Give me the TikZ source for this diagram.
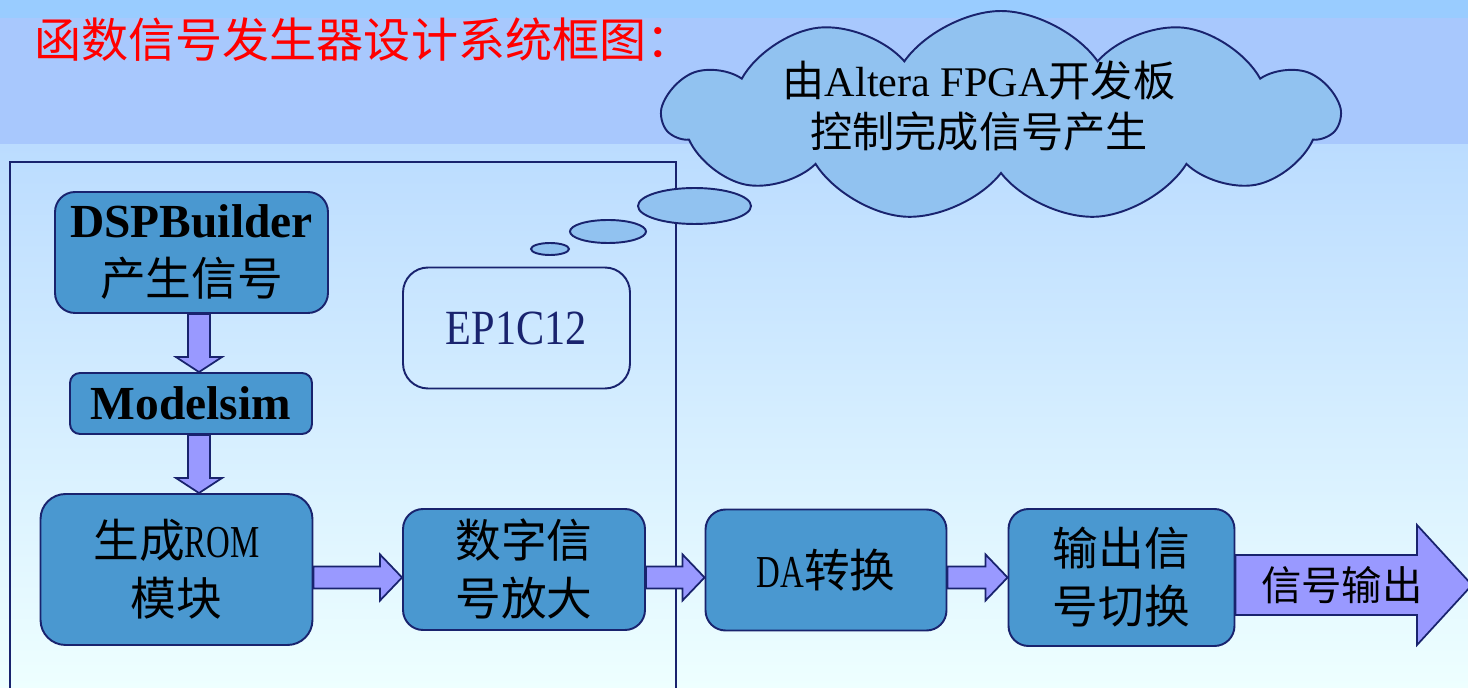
\documentclass[tikz,border=0pt]{standalone}
\usepackage{fontspec}
\setmainfont{Liberation Serif}
\newfontfamily\cjk{Noto Sans CJK SC}
\newfontfamily\half[FakeStretch=0.72]{Liberation Serif}
\newfontfamily\narrow[FakeStretch=0.86]{Liberation Serif}
\usepackage{tikz}
\usetikzlibrary{arrows, shapes, calc}
\definecolor{navy}{RGB}{25,35,110}
\definecolor{boxblue}{RGB}{74,152,208}
\definecolor{arrowfill}{RGB}{153,153,255}
\definecolor{cloudblue}{RGB}{145,194,240}
\definecolor{topband}{RGB}{153,204,255}
\definecolor{midband}{RGB}{168,200,253}
\definecolor{bandtop}{RGB}{187,220,255}
\definecolor{bandmid}{RGB}{214,228,255}
\definecolor{bandlow}{RGB}{238,255,255}
\tikzstyle{block} = [draw=navy, fill=boxblue, line width=1.1pt, rounded corners=0.4cm, align=center, inner sep=0pt, font=\fontsize{26}{33}\selectfont\cjk]
\tikzstyle{chip} = [draw=navy, line width=1.1pt, rounded corners=0.5cm, text=navy, minimum width=4.54cm, minimum height=2.42cm, font=\fontsize{28}{32}\selectfont\narrow]
\tikzstyle{blockarrow} = [draw=navy, fill=arrowfill, line width=1pt, line join=miter]
\tikzstyle{thought} = [draw=navy, fill=cloudblue, line width=1.1pt]
\tikzstyle{bubble} = [thought, ellipse, inner sep=0pt]
\tikzstyle{frame} = [draw=navy, line width=1.1pt]
\newcommand{\varrow}[2]{\path[blockarrow] let \p1=(col |- #1.south), \p2=(col |- #2.north) in
  (\x1-0.22cm,\y1) -- (\x1+0.22cm,\y1) -- (\x1+0.22cm,\y2+0.3cm) -- (\x1+0.46cm,\y2+0.3cm) -- (\x2,\y2)
  -- (\x1-0.46cm,\y2+0.3cm) -- (\x1-0.22cm,\y2+0.3cm) -- cycle;}
\newcommand{\harrow}[2]{\path[blockarrow] let \p1=(#1.east |- flow), \p2=(#2.west |- flow) in
  (\x1,\y1+0.22cm) -- (\x2-0.44cm,\y1+0.22cm) -- (\x2-0.44cm,\y1+0.46cm) -- (\x2,\y1)
  -- (\x2-0.44cm,\y1-0.46cm) -- (\x2-0.44cm,\y1-0.22cm) -- (\x1,\y1-0.22cm) -- cycle;}
\begin{document}
\begin{tikzpicture}[x=0.02cm, y=-0.02cm]
        \useasboundingbox (0,0) rectangle (1468,688);
        \fill[topband] (0,0) rectangle (1468,18);
        \fill[midband] (0,18) rectangle (1468,145);
        \shade[top color=bandtop, middle color=bandmid, bottom color=bandlow] (0,145) rectangle (1468,688);

        \node [anchor=west, inner sep=0pt, text=red, font=\fontsize{26.8}{30}\selectfont\cjk] (title) at (34,40) {函数信号发生器设计系统框图：};
        \draw [frame] (10,162) rectangle (676,700);

        \coordinate (col) at (199,0);
        \coordinate (flow) at (0,577.5);
        \coordinate (tip) at (1472,585);

        \node [block, minimum width=5.46cm, minimum height=2.42cm] (dsp) at (191.5,252.5) {{\fontsize{27}{33}\selectfont\rmfamily\bfseries DSPBuilder}\\产生信号};
        \node [block, rounded corners=0.2cm, minimum width=4.84cm, minimum height=1.22cm] (modelsim) at (191,403.5) {\fontsize{27}{33}\selectfont\rmfamily\bfseries Modelsim};
        \node [block, rounded corners=0.5cm, minimum width=5.44cm, minimum height=3.02cm] (rom) at (176.5,569.5) {生成{\half ROM}\\模块};
        \node [block, minimum width=4.84cm, minimum height=2.42cm] (amp) at (524,569.5) {数字信\\号放大};
        \node [block, minimum width=4.82cm, minimum height=2.42cm] (da) at (826,570) {{\half DA}转换};
        \node [block, minimum width=4.52cm, minimum height=2.74cm] (out) at (1121.5,577.5) {输出信\\号切换};
        \node [chip] (chip) at (516.5,328) {EP1C12};

        \node [thought, cloud, cloud puffs=11, cloud puff arc=110, cloud ignores aspect, minimum width=13.5cm, minimum height=4.2cm] (fpga) at (1001,116) {};
        \node [align=center, font=\fontsize{24}{29}\selectfont\cjk] (fpgatext) at ($(fpga.center)+(-22,-10)$) {由{\rmfamily Altera FPGA}开发板\\控制完成信号产生};
        \node [bubble, minimum width=2.26cm, minimum height=0.72cm] (bubbleA) at (694.5,206) {};
        \node [bubble, minimum width=1.52cm, minimum height=0.46cm] (bubbleB) at (608,231.5) {};
        \node [bubble, minimum width=0.76cm, minimum height=0.24cm] (bubbleC) at (550,249) {};

        \varrow{dsp}{modelsim}
        \varrow{modelsim}{rom}
        \harrow{rom}{amp}
        \harrow{amp}{da}
        \harrow{da}{out}
        \path[blockarrow] let \p1=(out.east |- tip), \p2=(tip) in
          (\x1,\y1+0.6cm) -- (\x2-1.1cm,\y1+0.6cm) -- (\x2-1.1cm,\y1+1.2cm) -- (\x2,\y1)
          -- (\x2-1.1cm,\y1-1.2cm) -- (\x2-1.1cm,\y1-0.6cm) -- (\x1,\y1-0.6cm) -- cycle;
        \node [font=\fontsize{23}{28}\selectfont\cjk] (outlabel) at ($(out.east |- tip)!0.45!(tip)$) {信号输出};
    \end{tikzpicture}
\end{document}
